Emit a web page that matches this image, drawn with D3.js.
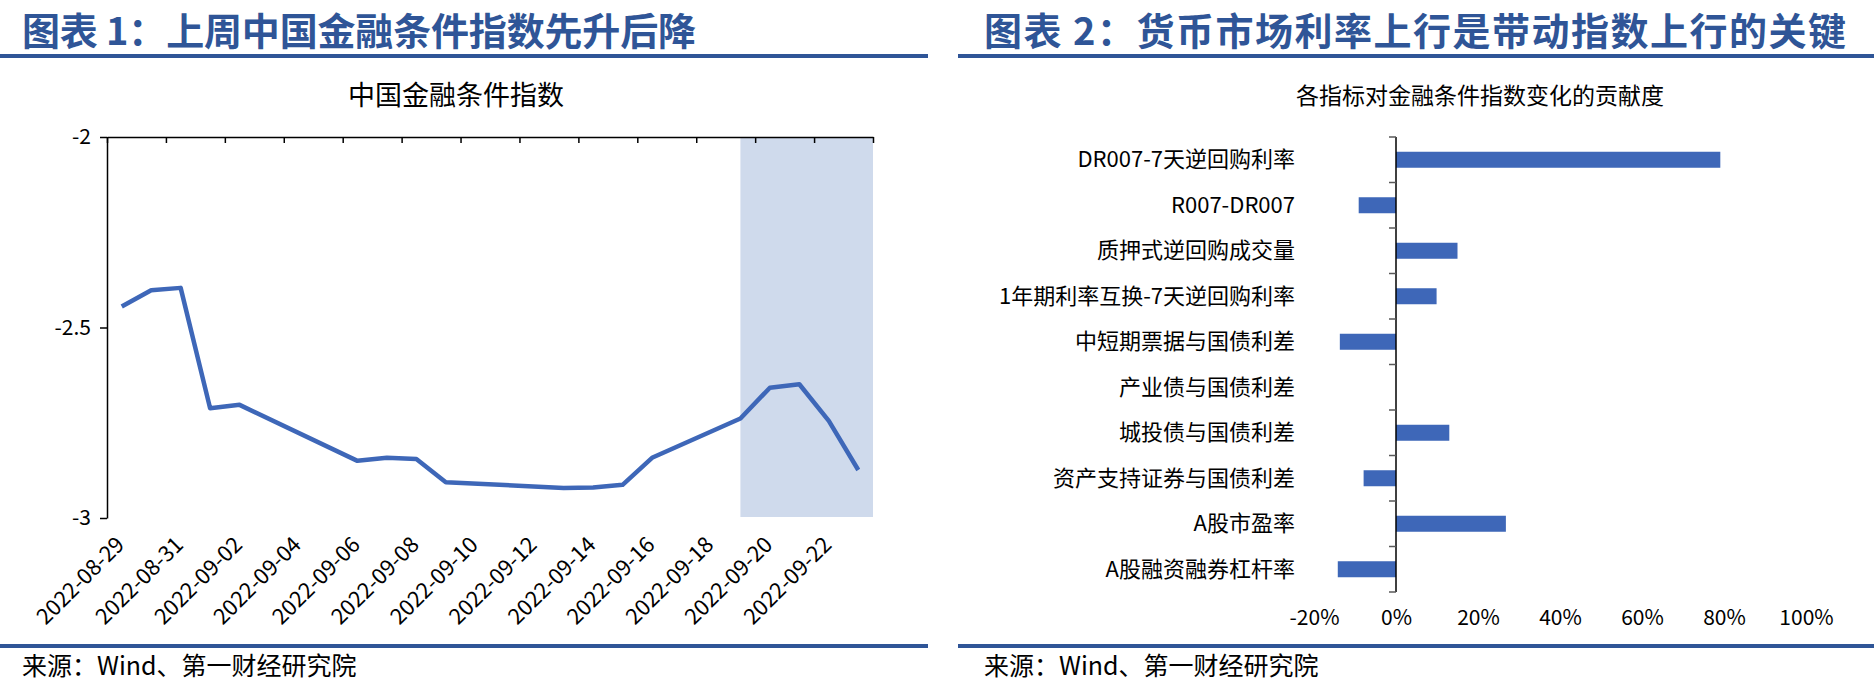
<!DOCTYPE html>
<html>
<head>
<meta charset="utf-8">
<script src="https://cdn.jsdelivr.net/npm/d3@7"></script>
<style>
  body { margin: 0; background: #fff; }
  text { font-family: "Noto Sans CJK SC", "Noto Sans", sans-serif; }
</style>
</head>
<body>
<div id="chart"></div>
<script>
// chart 1: 中国金融条件指数 (trading days only)
var fciDates = ["2022-08-29","2022-08-30","2022-08-31","2022-09-01","2022-09-02",
  "2022-09-06","2022-09-07","2022-09-08","2022-09-09","2022-09-13","2022-09-14",
  "2022-09-15","2022-09-16","2022-09-19","2022-09-20","2022-09-21","2022-09-22","2022-09-23"];
var fciValues = [-2.445,-2.402,-2.396,-2.712,-2.703,-2.850,-2.842,-2.845,-2.906,
  -2.921,-2.920,-2.913,-2.842,-2.739,-2.658,-2.649,-2.745,-2.874];
var fciTicks = [-2, -2.5, -3];
var shadeStart = "2022-09-19";
var axisStart = "2022-08-29", axisEnd = "2022-09-24";

// chart 2: 各指标对金融条件指数变化的贡献度
var factors = ["DR007-7天逆回购利率","R007-DR007","质押式逆回购成交量","1年期利率互换-7天逆回购利率",
  "中短期票据与国债利差","产业债与国债利差","城投债与国债利差","资产支持证券与国债利差",
  "A股市盈率","A股融资融券杠杆率"];
var contrib = [0.791,-0.091,0.150,0.099,-0.137,0,0.130,-0.079,0.268,-0.142];
var pctTicks = [-0.2,0,0.2,0.4,0.6,0.8,1.0];

var blue = "#2f5597", barBlue = "#3e67b8";
var parse = d3.timeParse("%Y-%m-%d");

var svg = d3.select("#chart").append("svg")
  .attr("width", 1874)
  .attr("height", 684);

// headers, rules and footers
var titles = [
  {x: 22, len: 674, text: "图表 1：上周中国金融条件指数先升后降", x1: 0, x2: 928},
  {x: 984, len: 862, text: "图表 2：货币市场利率上行是带动指数上行的关键", x1: 958, x2: 1874}
];
titles.forEach(function(t) {
  svg.append("text").attr("x", t.x).attr("y", 45)
    .attr("font-size", 38).attr("font-weight", 700).attr("fill", blue)
    .attr("textLength", t.len).attr("lengthAdjust", "spacing")
    .text(t.text);
  svg.append("rect").attr("x", t.x1).attr("y", 54).attr("width", t.x2 - t.x1).attr("height", 4).attr("fill", blue);
  svg.append("rect").attr("x", t.x1).attr("y", 644).attr("width", t.x2 - t.x1).attr("height", 4).attr("fill", blue);
  svg.append("text").attr("x", t.x).attr("y", 675)
    .attr("font-size", 25).attr("fill", "#000")
    .text("来源：Wind、第一财经研究院");
});

// ---- chart 1 ----
var pLeft = 107, pRight = 873, pTop = 137, pBottom = 518;
var x = d3.scaleTime().domain([parse(axisStart), parse(axisEnd)]).range([pLeft, pRight]);
var y = d3.scaleLinear().domain([-3, -2]).range([pBottom, pTop]);
var halfDay = (x(parse("2022-08-30")) - x(parse("2022-08-29"))) / 2;

svg.append("text").attr("x", 456).attr("y", 105).attr("text-anchor", "middle")
  .attr("font-size", 27).text("中国金融条件指数");

svg.append("rect")
  .attr("x", x(parse(shadeStart)) + halfDay)
  .attr("y", pTop)
  .attr("width", pRight - x(parse(shadeStart)) - halfDay)
  .attr("height", pBottom - pTop - 1)
  .attr("fill", "#cfdaec");

var tickDays = d3.timeDay.range(parse(axisStart), d3.timeDay.offset(parse(axisEnd), 1)).filter(function(d, i) { return i % 2 === 0; });

var xAxis = svg.append("g").attr("transform", "translate(0," + pTop + ")")
  .call(d3.axisBottom(x).tickValues(tickDays).tickSize(6).tickSizeOuter(0).tickFormat(""));
xAxis.selectAll("line, path").attr("stroke", "#000").attr("stroke-width", 1.5);

var labelDays = tickDays.slice(0, -1);
svg.append("g").selectAll("text")
  .data(labelDays)
  .enter().append("text")
    .attr("font-size", 22)
    .attr("text-anchor", "end")
    .attr("transform", function(d) {
      return "translate(" + (x(d) + halfDay + 4) + ",546) rotate(-45)";
    })
    .text(d3.timeFormat("%Y-%m-%d"));

var yAxis = svg.append("g").attr("transform", "translate(" + pLeft + ",0)")
  .call(d3.axisLeft(y).tickValues(fciTicks).tickSize(7).tickSizeOuter(0)
    .tickFormat(function(d) { return String(d).replace("−", "-"); }));
yAxis.selectAll("line, path").attr("stroke", "#000").attr("stroke-width", 1.5);
yAxis.selectAll("text").attr("font-size", 21).attr("fill", "#000")
  .attr("font-family", "Noto Sans CJK SC").attr("dx", -6);

var fciData = fciDates.map(function(d, i) { return {date: parse(d), v: fciValues[i]}; });
svg.append("path")
  .datum(fciData)
  .attr("fill", "none")
  .attr("stroke", barBlue)
  .attr("stroke-width", 4.5)
  .attr("stroke-linejoin", "round")
  .attr("d", d3.line()
    .x(function(d) { return x(d.date) + halfDay; })
    .y(function(d) { return y(d.v); }));

// ---- chart 2 ----
var bx = d3.scaleLinear().domain([-0.2, 1.0]).range([1314, 1806]);
var by = d3.scaleBand().domain(factors).range([137, 592]).padding(0);
var barH = 16;

svg.append("text").attr("x", 1480).attr("y", 104).attr("text-anchor", "middle")
  .attr("font-size", 23).text("各指标对金融条件指数变化的贡献度");

svg.append("g").selectAll("rect")
  .data(contrib)
  .enter().append("rect")
    .attr("x", function(d) { return bx(Math.min(0, d)); })
    .attr("y", function(d, i) { return by(factors[i]) + by.bandwidth() / 2 - barH / 2; })
    .attr("width", function(d) { return Math.abs(bx(d) - bx(0)); })
    .attr("height", barH)
    .attr("fill", barBlue);

// category axis: ticks at band edges
var edges = d3.range(factors.length + 1).map(function(i) { return 137 + i * by.step(); });
var cat = svg.append("g");
cat.append("line").attr("x1", bx(0)).attr("x2", bx(0)).attr("y1", 137).attr("y2", 592)
  .attr("stroke", "#000").attr("stroke-width", 1.5);
cat.selectAll("line.tick")
  .data(edges)
  .enter().append("line")
    .attr("class", "tick")
    .attr("x1", bx(0) - 7).attr("x2", bx(0))
    .attr("y1", function(d) { return d; }).attr("y2", function(d) { return d; })
    .attr("stroke", "#595959").attr("stroke-width", 1.5);
cat.selectAll("text")
  .data(factors)
  .enter().append("text")
    .attr("x", 1295)
    .attr("y", function(d) { return by(d) + by.bandwidth() / 2; })
    .attr("dy", "0.35em")
    .attr("text-anchor", "end")
    .attr("font-size", 22)
    .text(function(d) { return d; });

var pAxis = svg.append("g").attr("transform", "translate(0,607)")
  .call(d3.axisBottom(bx).tickValues(pctTicks).tickSize(0)
    .tickFormat(function(d) { return d3.format(".0%")(d).replace("−", "-"); }));
pAxis.select(".domain").remove();
pAxis.selectAll("text").attr("font-size", 21).attr("fill", "#000")
  .attr("font-family", "Noto Sans CJK SC");
</script>
</body>
</html>
